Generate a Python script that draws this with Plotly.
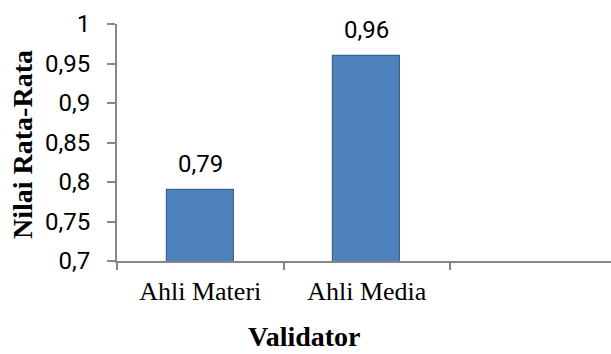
import plotly.graph_objects as go

# Mean validation scores per validator group
validators = ["Ahli Materi", "Ahli Media"]
scores = [0.79, 0.96]
score_labels = ["0,79", "0,96"]

y_ticks = [0.7, 0.75, 0.8, 0.85, 0.9, 0.95, 1.0]
y_tick_text = ["0,7", "0,75", "0,8", "0,85", "0,9", "0,95", "1"]

axis_grey = "#868686"
bar_fill = "#4F81BD"
bar_edge = "#3A6390"

x_pos = list(range(len(validators)))

fig = go.Figure()
fig.add_trace(go.Bar(
    x=x_pos,
    y=scores,
    width=0.4,
    marker=dict(color=bar_fill, line=dict(color=bar_edge, width=1.2)),
    hoverinfo="skip",
))

# Value labels above each bar
for xi, v, t in zip(x_pos, scores, score_labels):
    fig.add_annotation(
        x=xi, y=v, text=t, showarrow=False, yanchor="bottom", yshift=10,
        font=dict(family="Roboto", size=24, color="#000000"),
    )

fig.update_layout(
    width=611, height=354,
    margin=dict(l=117, r=0, t=24, b=93),
    paper_bgcolor="white", plot_bgcolor="white",
    showlegend=False,
    bargap=0,
    xaxis=dict(
        range=[-0.5, 2.467],
        tickmode="array", tickvals=x_pos, ticktext=validators,
        ticks="", showgrid=False, zeroline=False,
        showline=True, linecolor=axis_grey, linewidth=2,
        tickfont=dict(family="Liberation Serif", size=26, color="#000000"),
        ticklabelstandoff=6,
        minor=dict(tickmode="linear", tick0=-0.5, dtick=1, ticks="outside",
                   ticklen=7, tickwidth=2, tickcolor=axis_grey, showgrid=False),
    ),
    yaxis=dict(
        range=[0.7, 1.0],
        tickmode="array", tickvals=y_ticks, ticktext=y_tick_text,
        ticks="outside", ticklen=8, tickwidth=2, tickcolor=axis_grey,
        showgrid=False, zeroline=False,
        showline=True, linecolor=axis_grey, linewidth=2,
        tickfont=dict(family="Roboto", size=24, color="#000000"),
        ticklabelstandoff=12,
    ),
)

# Axis titles
fig.add_annotation(
    xref="paper", yref="paper", x=-0.19, y=0.49, xanchor="center", yanchor="middle",
    text="<b>Nilai Rata-Rata</b>", textangle=-90, showarrow=False,
    font=dict(family="Liberation Serif", size=28, color="#000000"),
)
fig.add_annotation(
    xref="paper", yref="paper", x=0.38, y=-0.32, xanchor="center", yanchor="middle",
    text="<b>Validator</b>", showarrow=False,
    font=dict(family="Liberation Serif", size=28, color="#000000"),
)

fig.write_html("out.html")
